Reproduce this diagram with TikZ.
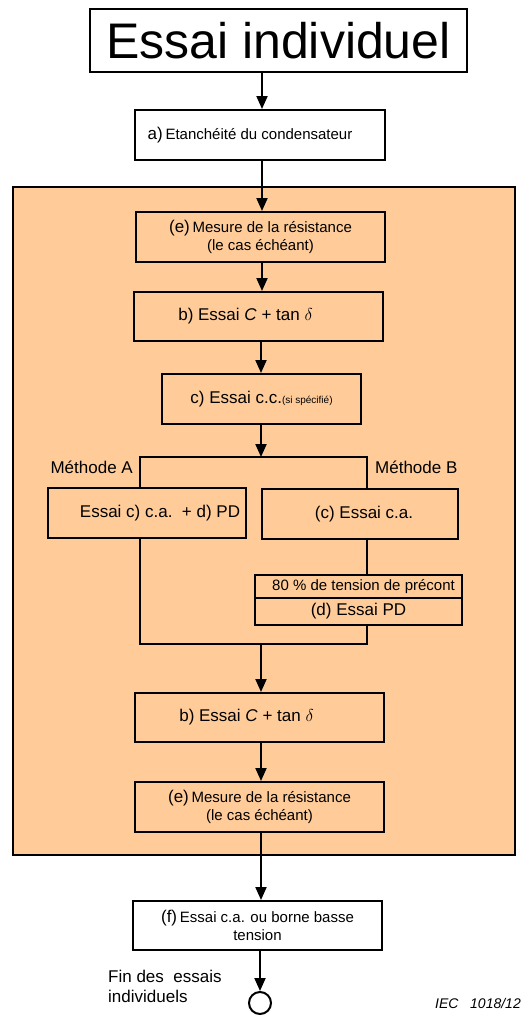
\documentclass[tikz,border=0pt]{standalone}
\usepackage{fontspec}
\setmainfont{Liberation Sans}
\usetikzlibrary{arrows.meta,calc}
\definecolor{peach}{RGB}{255,204,153}
\newcommand{\fsz}[1]{\fontsize{#1}{#1}\selectfont}
\begin{document}
\begin{tikzpicture}[x=1pt,y=-1pt,
  box/.style={draw, line width=2pt, inner sep=0pt, align=center, fill=peach},
  wbox/.style={box, fill=white},
  conn/.style={line width=2pt},
  arr/.style={line width=2pt, -{Triangle[length=13pt,width=11pt]}},
  lbl/.style={inner sep=0pt, font=\fsz{17}}
]
\fill[white] (0,0) rectangle (523,1017);
\useasboundingbox (0,0) rectangle (523,1017);

% orange frame
\node[draw, line width=2pt, fill=peach, minimum width=502pt, minimum height=668pt, inner sep=0pt] (frame) at (264,521) {};

% title
\node[wbox, minimum width=377pt, minimum height=63pt] (title) at (278.5,40.5) {\fsz{50}Essai individuel};

\node[wbox, minimum width=250pt, minimum height=50pt] (a) at (260,135)
  {\hspace*{-20pt}{\fsz{17}a)} {\fsz{15}Etanchéité du condensateur}};

\node[box, minimum width=249pt, minimum height=50pt] (e1) at (260.5,237)
  {{\fsz{17}(e)} {\fsz{15}Mesure de la résistance}\\[3pt]{\fsz{15}(le cas échéant)}};

\node[box, minimum width=249pt, minimum height=49pt] (b1) at (258.5,316.5)
  {\fsz{17}\hspace*{-26pt}b) Essai \textit{C} + tan {\fsz{19}$\delta$}};

\node[box, minimum width=199pt, minimum height=50pt] (c) at (261.5,399)
  {\fsz{17}c) Essai c.c.{\fsz{10}(si spécifié)}};

\coordinate (jm) at (261,457);
\coordinate (jl) at (140,457);
\coordinate (jr) at (367,457);
\coordinate (kl) at (140,644);
\coordinate (kr) at (367,644);
\coordinate (km) at (261,644);

\node[lbl, anchor=east] (mA) at (133,467) {Méthode A};
\node[lbl, anchor=west] (mB) at (375,467) {Méthode B};

\node[box, minimum width=198pt, minimum height=50pt] (A) at (147,513)
  {\fsz{17}\hspace*{26pt}Essai c) c.a.\ \ + d) PD};
\node[box, minimum width=196pt, minimum height=50pt] (B) at (360,514)
  {\fsz{17}\hspace*{8pt}(c) Essai c.a.};

\node[box, minimum width=207pt, minimum height=23pt] (p80) at (358.5,586.5)
  {\fsz{15}\hspace*{10pt}80 \% de tension de précont};
\node[box, minimum width=207pt, minimum height=27pt] (pd) at (358.5,611.5)
  {\fsz{17}(d) Essai PD};

\node[box, minimum width=249pt, minimum height=49pt] (b2) at (259.5,717.5)
  {\fsz{17}\hspace*{-26pt}b) Essai \textit{C} + tan {\fsz{19}$\delta$}};

\node[box, minimum width=249pt, minimum height=50pt] (e2) at (259.5,807)
  {{\fsz{17}(e)} {\fsz{15}Mesure de la résistance}\\[3pt]{\fsz{15}(le cas échéant)}};

\node[wbox, minimum width=249pt, minimum height=49pt] (f) at (257.5,925.5)
  {{\fsz{17}(f)} {\fsz{15}Essai c.a. ou borne basse}\\[3pt]{\fsz{15}tension}};

\node[draw, circle, line width=2pt, minimum size=22pt, inner sep=0pt, fill=white] (end) at (260,1003) {};

\node[lbl, anchor=north west, align=left] (fin) at (108,970) {Fin des\ \ essais\\[3pt]individuels};
\node[inner sep=0pt, anchor=east, font=\fsz{14}\itshape] (iec) at (521,1003) {IEC\ \ \ 1018/12};

% connectors
\draw[arr] ($(title.south)+(-16.5,0)$) -- (a.north -| 262,0);
\draw[arr] (a.south -| 262,0) -- (e1.north -| 262,0);
\draw[arr] (e1.south -| 262,0) -- (b1.north -| 262,0);
\draw[arr] (b1.south -| 261,0) -- (c.north -| 261,0);
\draw[arr] (c.south -| jm) -- (jm);
\draw[conn] (A.north -| jl) -- (jl) -- (jr) -- (B.north -| jr);
\draw[conn] (B.south -| jr) -- (p80.north -| jr);
\draw[conn] (A.south -| kl) -- (kl) -- (kr) -- (pd.south -| kr);
\draw[arr] (km) -- (b2.north -| km);
\draw[arr] (b2.south -| 261,0) -- (e2.north -| 261,0);
\draw[arr] (e2.south -| 261,0) -- (f.north -| 261,0);
\draw[arr] (f.south -| end) -- (end.north);
\end{tikzpicture}
\end{document}
